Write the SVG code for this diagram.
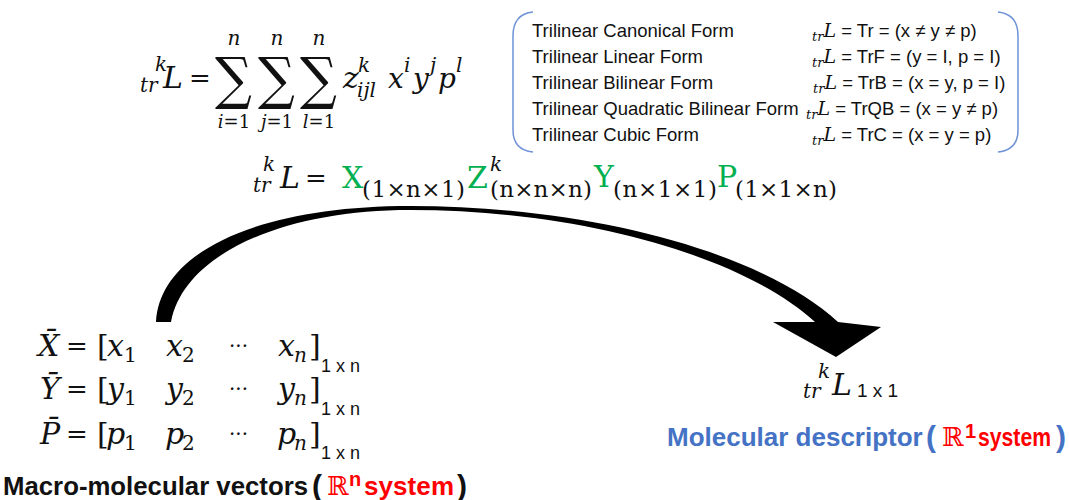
<svg xmlns="http://www.w3.org/2000/svg" width="1069" height="500" viewBox="0 0 1069 500">
<style>
.m{font-family:'DejaVu Serif',serif;font-style:italic;font-size:30px;fill:#111}
.u{font-family:'DejaVu Serif',serif;font-size:30px;fill:#111}
.s{font-size:20px}
.ss{font-size:18px}
.v{font-size:28px}
.eq{font-size:26px}
.sub{font-size:23px}
.g{fill:#00B050}
.sig{font-family:'DejaVu Serif','DejaVu Sans',serif;font-size:58px;fill:#111}
.f{font-family:'Liberation Sans',Arial,sans-serif;font-size:18.5px;fill:#111}
.fi{font-family:'DejaVu Serif',serif;font-style:italic;fill:#111}
.lab{font-family:'Liberation Sans',Arial,sans-serif;font-weight:bold;font-size:26px}
.par{font-size:30px}
.sup{font-size:20px}
.dbl{font-family:'DejaVu Serif','DejaVu Sans',serif;font-weight:normal}
.bk{fill:#111}.bl{fill:#4472C4}.rd{fill:#FF0000}
.br{fill:none;stroke:#6F93D6;stroke-width:1.5}
.dim{font-family:'Liberation Sans',Arial,sans-serif;font-size:18px;fill:#111}
.dim1{font-size:19px}
</style>

<g id="formula-sum">
  <text class="m s" x="155" y="71">k</text>
  <text class="m s" x="140" y="92">tr</text>
  <text class="m" x="163" y="88">L</text>
  <text class="u eq" x="189" y="87">=</text>
  <text class="sig" transform="translate(215,98) scale(0.89,0.98)">∑</text>
  <text class="sig" transform="translate(258,98) scale(0.89,0.98)">∑</text>
  <text class="sig" transform="translate(300,98) scale(0.89,0.98)">∑</text>
  <text class="m s" x="234" y="45" text-anchor="middle">n</text>
  <text class="m s" x="277" y="45" text-anchor="middle">n</text>
  <text class="m s" x="319" y="45" text-anchor="middle">n</text>
  <text class="u ss" x="234" y="128" text-anchor="middle"><tspan font-style="italic">i</tspan>=1</text>
  <text class="u ss" x="277" y="128" text-anchor="middle"><tspan font-style="italic">j</tspan>=1</text>
  <text class="u ss" x="319" y="128" text-anchor="middle"><tspan font-style="italic">l</tspan>=1</text>
  <text class="m" x="343" y="88">z</text>
  <text class="m s" x="358" y="72">k</text>
  <text class="m s" x="357" y="97">ijl</text>
  <text class="m v" x="388" y="88">x</text>
  <text class="m s" x="404" y="72">i</text>
  <text class="m v" x="413" y="88">y</text>
  <text class="m s" x="430" y="72">j</text>
  <text class="m v" x="438" y="88">p</text>
  <text class="m s" x="456" y="72">l</text>
</g>

<g id="forms-box">
  <path class="br" d="M533,12 Q513,14 513,36 L513,130 Q513,150 533,152"/>
  <path class="br" d="M998,12 Q1018,14 1018,36 L1018,130 Q1018,150 998,152"/>
  <text class="f" x="532" y="37">Trilinear Canonical  Form</text>
  <text class="f" x="532" y="63">Trilinear Linear Form</text>
  <text class="f" x="532" y="89">Trilinear Bilinear  Form</text>
  <text class="f" x="532" y="115">Trilinear Quadratic Bilinear Form</text>
  <text class="f" x="532" y="141">Trilinear Cubic  Form</text>
  <text class="f" x="812" y="37"><tspan class="fi" font-size="13" dy="4">tr</tspan><tspan class="fi" font-size="19" dy="-4">L</tspan> = Tr = (x ≠ y ≠ p)</text>
  <text class="f" x="812" y="63"><tspan class="fi" font-size="13" dy="4">tr</tspan><tspan class="fi" font-size="19" dy="-4">L</tspan> = TrF = (y = I, p = I)</text>
  <text class="f" x="813" y="89"><tspan class="fi" font-size="13" dy="4">tr</tspan><tspan class="fi" font-size="19" dy="-4">L</tspan> = TrB = (x = y, p = I)</text>
  <text class="f" x="806" y="115"><tspan class="fi" font-size="13" dy="4">tr</tspan><tspan class="fi" font-size="19" dy="-4">L</tspan> = TrQB = (x = y ≠ p)</text>
  <text class="f" x="812" y="141"><tspan class="fi" font-size="13" dy="4">tr</tspan><tspan class="fi" font-size="19" dy="-4">L</tspan> = TrC = (x = y = p)</text>
</g>

<g id="formula-matrix">
  <text class="m s" x="263" y="171">k</text>
  <text class="m s" x="253" y="192">tr</text>
  <text class="m" x="280" y="188">L</text>
  <text class="u eq" x="305" y="187">=</text>
  <text class="u g" x="342" y="188">X</text>
  <text class="u sub" x="362" y="197" textLength="103">(1×n×1)</text>
  <text class="u g" x="467" y="188">Z</text>
  <text class="m s" x="490" y="171">k</text>
  <text class="u sub" x="490" y="197" textLength="102">(n×n×n)</text>
  <text class="u g" x="594" y="187">Y</text>
  <text class="u sub" x="613" y="197" textLength="104">(n×1×1)</text>
  <text class="u g" x="717" y="187">P</text>
  <text class="u sub" x="735" y="197" textLength="102">(1×1×n)</text>
</g>

<g id="connectors">
  <path fill="#000" d="M156,322 C160,250 262,206 410,206 C590,206 762,252 838,322 L881,327 L836,357 L773,322 L815,322 C748,260 590,210 410,210 C285,210 184,253 171,322 Z"/>
</g>

<g id="vectors">
  <text class="m" x="38" y="356">X̄</text>
  <text class="u eq" x="66" y="355">=</text>
  <text class="u" x="97" y="356">[</text>
  <text class="m" x="107" y="356">x</text><text class="u s" x="124" y="362">1</text>
  <text class="m" x="166" y="356">x</text><text class="u s" x="182" y="362">2</text>
  <text class="u s" x="229" y="353">···</text>
  <text class="m" x="278" y="356">x</text><text class="m s" x="294" y="362">n</text>
  <text class="u" x="309" y="356">]</text>
  <text class="dim" x="321" y="372">1 x n</text>

  <text class="m" x="40" y="399">Ȳ</text>
  <text class="u eq" x="66" y="398">=</text>
  <text class="u" x="97" y="399">[</text>
  <text class="m" x="107" y="399">y</text><text class="u s" x="124" y="405">1</text>
  <text class="m" x="166" y="399">y</text><text class="u s" x="182" y="405">2</text>
  <text class="u s" x="229" y="396">···</text>
  <text class="m" x="278" y="399">y</text><text class="m s" x="294" y="405">n</text>
  <text class="u" x="309" y="399">]</text>
  <text class="dim" x="321" y="415">1 x n</text>

  <text class="m" x="40" y="444">P̄</text>
  <text class="u eq" x="66" y="443">=</text>
  <text class="u" x="97" y="444">[</text>
  <text class="m" x="106" y="444">p</text><text class="u s" x="124" y="450">1</text>
  <text class="m" x="165" y="444">p</text><text class="u s" x="182" y="450">2</text>
  <text class="u s" x="229" y="441">···</text>
  <text class="m" x="277" y="444">p</text><text class="m s" x="294" y="450">n</text>
  <text class="u" x="309" y="444">]</text>
  <text class="dim" x="321" y="459">1 x n</text>
</g>

<g id="result">
  <text class="m s" x="818" y="378">k</text>
  <text class="m s" x="803" y="398">tr</text>
  <text class="m" x="832" y="395">L</text>
  <text class="dim dim1" x="857" y="397">1 x 1</text>
</g>

<g id="label-macro">
  <text class="lab bk" x="3" y="495" textLength="305" lengthAdjust="spacingAndGlyphs">Macro-molecular vectors</text>
  <text class="lab bk par" x="312" y="496">(</text>
  <text class="lab rd dbl" x="327" y="495">ℝ</text>
  <text class="lab rd sup" x="349" y="486">n</text>
  <text class="lab rd" x="364" y="495" textLength="90">system</text>
  <text class="lab bk par" x="457" y="496">)</text>
</g>

<g id="label-molecular">
  <text class="lab bl" x="667" y="446">Molecular descriptor</text>
  <text class="lab bl par" x="926" y="447">(</text>
  <text class="lab rd dbl" x="942" y="446">ℝ</text>
  <text class="lab rd sup" x="965" y="438">1</text>
  <text class="lab rd" x="978" y="446" textLength="73" lengthAdjust="spacingAndGlyphs">system</text>
  <text class="lab bl par" x="1056" y="447">)</text>
</g>
</svg>
